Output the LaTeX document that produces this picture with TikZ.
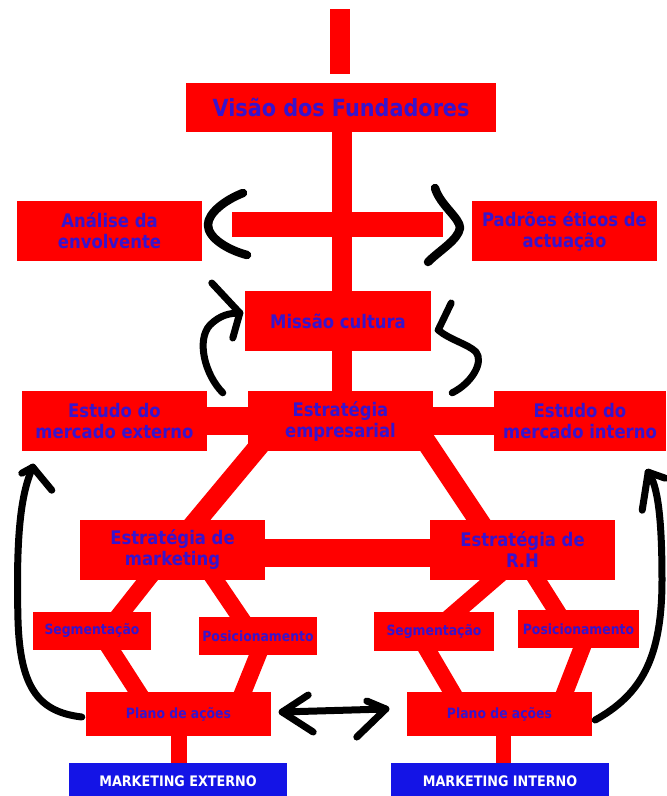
\documentclass[tikz,border=0pt]{standalone}
\usepackage{fontspec}
\newfontfamily\lab[FakeStretch=0.88]{DejaVu Sans}
\usetikzlibrary{calc,backgrounds}
\definecolor{rd}{RGB}{255,0,0}
\definecolor{tx}{RGB}{55,20,205}
\definecolor{bl}{RGB}{20,20,230}
\begin{document}
\begin{tikzpicture}[x=1pt,y=-1pt,
  bx/.style={fill=rd, draw=none, inner sep=0pt, align=center, text=tx,
    font=\lab\bfseries\fontsize{18.7}{21}\selectfont},
  small/.style={bx, font=\lab\bfseries\fontsize{14.1}{16}\selectfont},
  mkbox/.style={fill=bl, draw=none, inner sep=0pt, text=white,
    font=\lab\bfseries\fontsize{14.5}{16}\selectfont},
  band/.style={draw=rd, line width=#1, line cap=butt},
  blk/.style={draw=black, line width=7pt, line cap=round, line join=round},
  brk/.style={blk, line width=8.5pt}
]
\useasboundingbox (0,0) rectangle (667,796);

% boxes
\node[bx, minimum width=20pt, minimum height=65pt] (topbar) at (340,41.5) {};
\node[bx, minimum width=310pt, minimum height=49pt,
  font=\lab\bfseries\fontsize{23.6}{26}\selectfont] (visao) at (341,107.5) {Visão dos Fundadores};
\node[bx, minimum width=211pt, minimum height=25pt] (crossbar) at (337.5,224.5) {};
\node[bx, minimum width=185pt, minimum height=60pt] (analise) at (109.5,231) {Análise da\\envolvente};
\node[bx, minimum width=185pt, minimum height=60pt] (padroes) at (564.5,231) {Padrões éticos de\\actuação};
\node[bx, minimum width=186pt, minimum height=60pt] (missao) at (338,321) {Missão cultura};
\node[bx, minimum width=185pt, minimum height=60pt] (estrat) at (340.5,421) {Estratégia\\empresarial};
\node[bx, minimum width=185pt, minimum height=60pt] (extm) at (114.5,421) {Estudo do\\mercado externo};
\node[bx, minimum width=172pt, minimum height=60pt] (intm) at (580,421) {Estudo do\\mercado interno};
\node[bx, minimum width=185pt, minimum height=60pt] (mkt) at (172.5,550) {Estratégia de\\marketing};
\node[bx, minimum width=185pt, minimum height=60pt] (rh) at (522.5,550) {Estratégia de\\R.H};
\node[small, minimum width=118pt, minimum height=38pt] (seg1) at (92,631) {Segmentação};
\node[small, minimum width=118pt, minimum height=38pt] (pos1) at (258,636) {Posicionamento};
\node[small, minimum width=120pt, minimum height=39pt] (seg2) at (434,631.5) {Segmentação};
\node[small, minimum width=121pt, minimum height=38pt] (pos2) at (578.5,629) {Posicionamento};
\node[small, minimum width=185pt, minimum height=44pt] (plano1) at (178.5,714) {Plano de ações};
\node[small, minimum width=185pt, minimum height=44pt] (plano2) at (499.5,714) {Plano de ações};
\node[mkbox, minimum width=218pt, minimum height=36pt] (mext) at (178,781) {MARKETING EXTERNO};
\node[mkbox, minimum width=218pt, minimum height=36pt] (mint) at (500,781) {MARKETING INTERNO};

% red connectors behind the boxes
\begin{scope}[on background layer]
\fill[white] (0,0) rectangle (667,796);
\draw[band=20pt] ($(visao.center)+(1,0)$) -- ($(visao.center |- estrat.center)+(1,0)$);
\draw[band=28pt] (extm.center) -- (estrat.center);
\draw[band=28pt] (estrat.center) -- (intm.center);
\draw[band=28pt] ($(mkt.center)+(0,3)$) -- ($(rh.center)+(0,3)$);
\draw[band=20pt] ($(estrat.center)+(-76.5,19)$) -- ($(mkt.center)+(16.5,-20)$);
\draw[band=20pt] ($(estrat.center)+(84.5,19)$) -- ($(rh.center)+(-37.5,-20)$);
\draw[band=17pt] ($(mkt.center)+(-17.5,20)$) -- ($(seg1.center)+(22,-9)$);
\draw[band=17pt] ($(mkt.center)+(35.7,20)$) -- ($(pos1.center)+(-11.2,-9)$);
\draw[band=17pt] ($(seg1.center)+(13.2,10)$) -- ($(plano1.center)+(-34.1,-12)$);
\draw[band=17pt] ($(pos1.center)+(3.6,10)$) -- ($(plano1.center)+(60.5,-12)$);
\draw[band=17pt] ($(rh.center)+(-17.9,20)$) -- ($(seg2.center)+(10.4,-9.5)$);
\draw[band=17pt] ($(rh.center)+(8.2,20)$) -- ($(pos2.center)+(-16.2,-9)$);
\draw[band=17pt] ($(seg2.center)+(-11.9,9.5)$) -- ($(plano2.center)+(-41.6,-12)$);
\draw[band=17pt] ($(pos2.center)+(7.4,9)$) -- ($(plano2.center)+(61.6,-12)$);
\draw[band=16pt] ($(plano1.center)+(0.5,0)$) -- ($(plano1.center |- mext.center)+(0.5,0)$);
\draw[band=15pt] ($(plano2.center)+(4,0)$) -- ($(plano2.center |- mint.center)+(4,0)$);
\end{scope}

% black hand-drawn brackets and arrows
\draw[brk] (243,193) .. controls (225,200) and (208,213) .. (208,225)
  .. controls (208,238) and (228,250) .. (247,255);
\draw[brk] (435,188) .. controls (440,205) and (460,218) .. (460,228)
  .. controls (458,240) and (440,250) .. (428,262);

% arrow into Missão from the left
\coordinate (lmA) at ($(estrat.north west)+(-25,2)$);
\coordinate (lmB) at ($(missao.west)+(-5,-8)$);
\draw[blk] (lmA) .. controls (205,375) and (196,340) .. (210,325)
  .. controls (220,315) and (230,313) .. (lmB);
\draw[blk] (lmB) -- ++(-28,-30);
\draw[blk] (lmB) -- ++(-7,25);

% arrow into Missão from the right
\coordinate (rmA) at ($(estrat.north east)+(19,2)$);
\coordinate (rmB) at ($(missao.east)+(7,9)$);
\draw[blk] (rmA) .. controls (472,383) and (484,362) .. (476,352)
  .. controls (468,344) and (450,340) .. (rmB);
\draw[blk] (rmB) -- ++(13,-27);

% long arrow from Plano de ações to Estudo do mercado externo
\coordinate (laA) at ($(plano1.west)+(-4,3)$);
\coordinate (laB) at ($(extm.south west)+(11,16)$);
\draw[blk] (laA) .. controls (40,712) and (20,690) .. (18,620)
  .. controls (16,540) and (20,495) .. (laB);
\draw[blk] (laB) -- ++(-11,6);
\draw[blk] (laB) -- ++(19,23);

% long arrow from Plano de ações to Estudo do mercado interno
\coordinate (raA) at ($(plano2.east)+(3,6)$);
\coordinate (raB) at ($(intm.south east)+(-18,21)$);
\draw[blk] (raA) .. controls (640,695) and (662,660) .. (662,580)
  .. controls (662,520) and (658,485) .. (raB);
\draw[blk] (raB) -- ++(-6,38);
\draw[blk] (raB) -- ++(17,6);

% double arrow between the two action plans
\coordinate (dA) at ($(plano1.east)+(11,-2)$);
\coordinate (dB) at ($(plano2.west)+(-21,-5)$);
\draw[blk] (dA) -- (dB);
\draw[blk] (dA) -- ++(26,-17);
\draw[blk] (dA) -- ++(31,20);
\draw[blk] (dB) -- ++(-19,-8);
\draw[blk] (dB) -- ++(-29,28);
\end{tikzpicture}
\end{document}
